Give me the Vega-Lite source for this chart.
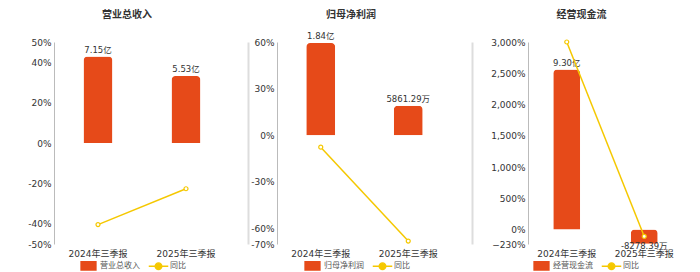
{
  "$schema": "https://vega.github.io/schema/vega-lite/v6.json",
  "padding": {"left": 0, "top": 9, "right": 0, "bottom": 0},
  "background": "white",
  "config": {
    "font": "DejaVu Sans, Noto Sans CJK SC",
    "view": {"stroke": null},
    "title": {"fontSize": 10, "fontWeight": "bold", "color": "#333", "font": "DejaVu Sans, Noto Sans CJK SC"},
    "axis": {"labelFont": "DejaVu Sans, Noto Sans CJK SC", "labelFontSize": 9, "labelColor": "#333", "title": null},
    "legend": {"labelFont": "DejaVu Sans, Noto Sans CJK SC"}
  },
  "hconcat": [
    {
      "width": 176, "height": 202,
      "title": {"text": "营业总收入", "dx": -15, "offset": 18},
      "data": {"values": [
        {"period": "2024年三季报", "amount": 7.15, "label": "7.15亿", "yoy": -40.4},
        {"period": "2025年三季报", "amount": 5.53, "label": "5.53亿", "yoy": -22.66}
      ]},
      "encoding": {"x": {"field": "period", "type": "nominal", "sort": null, "scale": {"paddingInner": 0, "paddingOuter": 0},
        "axis": {"domain": false, "ticks": false, "labelAngle": 0, "labelPadding": 5, "grid": false}}},
      "layer": [
        {"mark": {"type": "bar", "size": 29, "cornerRadiusEnd": 4},
         "encoding": {"y": {"field": "amount", "type": "quantitative", "scale": {"domain": [-8.35, 8.35]}, "axis": null},
           "color": {"datum": "营业总收入", "type": "nominal", "scale": {"domain": ["营业总收入", "同比"], "range": ["#E64A19", "#F5C800"]},
             "legend": {"orient": "none", "legendX": 26, "legendY": 215, "direction": "horizontal", "title": null, "labelFontSize": 8, "labelColor": "#555", "symbolSize": 225, "columnPadding": 6, "labelOffset": 3,
               "encode": {"symbols": {"update": {
                 "shape": {"signal": "datum.value === '同比' ? 'M-1.3,0H-0.45M0.45,0H1.3M0.45,0A0.45,0.45,0,1,1,-0.45,0A0.45,0.45,0,1,1,0.45,0' : 'M-1,-0.55H1V0.55H-1Z'"},
                 "fill": {"signal": "datum.value === '同比' ? '#ffffff' : '#E64A19'"},
                 "stroke": {"signal": "datum.value === '同比' ? '#F5C800' : '#E64A19'"},
                 "strokeWidth": {"value": 1.3}, "opacity": {"value": 1}}}}}}}},
        {"mark": {"type": "text", "baseline": "bottom", "dy": -2, "fontSize": 8.5, "color": "#333"},
         "encoding": {"y": {"field": "amount", "type": "quantitative", "scale": {"domain": [-8.35, 8.35]}, "axis": null}, "text": {"field": "label"}}},
        {"mark": {"type": "rule", "color": "#888", "strokeWidth": 1.5},
         "encoding": {"y": {"datum": 0, "type": "quantitative", "scale": {"domain": [-50, 50]}, "axis": null}}},
        {"mark": {"type": "line", "strokeWidth": 1.5, "point": {"filled": false, "fill": "white", "size": 16, "strokeWidth": 1.2}},
         "encoding": {"y": {"field": "yoy", "type": "quantitative", "scale": {"domain": [-50, 50]},
           "axis": {"values": [-50, -40, -20, 0, 20, 40, 50], "labelExpr": "datum.value + '%'", "tickSize": 0, "labelPadding": 3, "domainColor": "#bbb", "gridColor": "#e8edf5", "domainWidth": 1, "minExtent": 54, "maxExtent": 54}},
           "color": {"datum": "同比", "type": "nominal"}}}
      ],
      "resolve": {"scale": {"y": "independent"}}
    },
    {
      "width": 175, "height": 202,
      "title": {"text": "归母净利润", "dx": -13.5, "offset": 12},
      "data": {"values": [
        {"period": "2024年三季报", "amount": 1.84, "label": "1.84亿", "yoy": -7.7},
        {"period": "2025年三季报", "amount": 0.586129, "label": "5861.29万", "yoy": -68.1}
      ]},
      "encoding": {"x": {"field": "period", "type": "nominal", "sort": null, "scale": {"paddingInner": 0, "paddingOuter": 0},
        "axis": {"domain": false, "ticks": false, "labelAngle": 0, "labelPadding": 5, "grid": false}}},
      "layer": [
        {"mark": {"type": "bar", "size": 29, "cornerRadiusEnd": 4},
         "encoding": {"y": {"field": "amount", "type": "quantitative", "scale": {"domain": [-2.17, 1.86]}, "axis": null},
           "color": {"datum": "归母净利润", "type": "nominal", "scale": {"domain": ["归母净利润", "同比"], "range": ["#E64A19", "#F5C800"]},
             "legend": {"orient": "none", "legendX": 27, "legendY": 215, "direction": "horizontal", "title": null, "labelFontSize": 8, "labelColor": "#555", "symbolSize": 225, "columnPadding": 6, "labelOffset": 3,
               "encode": {"symbols": {"update": {
                 "shape": {"signal": "datum.value === '同比' ? 'M-1.3,0H-0.45M0.45,0H1.3M0.45,0A0.45,0.45,0,1,1,-0.45,0A0.45,0.45,0,1,1,0.45,0' : 'M-1,-0.55H1V0.55H-1Z'"},
                 "fill": {"signal": "datum.value === '同比' ? '#ffffff' : '#E64A19'"},
                 "stroke": {"signal": "datum.value === '同比' ? '#F5C800' : '#E64A19'"},
                 "strokeWidth": {"value": 1.3}, "opacity": {"value": 1}}}}}}}},
        {"mark": {"type": "text", "baseline": "bottom", "dy": -2, "fontSize": 8.5, "color": "#333"},
         "encoding": {"y": {"field": "amount", "type": "quantitative", "scale": {"domain": [-2.17, 1.86]}, "axis": null}, "text": {"field": "label"}}},
        {"mark": {"type": "rule", "color": "#888", "strokeWidth": 1.5},
         "encoding": {"y": {"datum": 0, "type": "quantitative", "scale": {"domain": [-70, 60]},
           "axis": {"orient": "left", "offset": 29, "labels": false, "ticks": false, "grid": false, "domainColor": "#dddddd", "domainWidth": 2, "minExtent": 0, "maxExtent": 0}}}},
        {"mark": {"type": "line", "strokeWidth": 1.5, "point": {"filled": false, "fill": "white", "size": 16, "strokeWidth": 1.2}},
         "encoding": {"y": {"field": "yoy", "type": "quantitative", "scale": {"domain": [-70, 60]},
           "axis": {"orient": "left", "values": [-70, -60, -30, 0, 30, 60], "labelExpr": "datum.value + '%'", "tickSize": 0, "labelPadding": 3, "domainColor": "#bbb", "gridColor": "#e8edf5", "domainWidth": 1, "minExtent": 47, "maxExtent": 47}},
           "color": {"datum": "同比", "type": "nominal"}}}
      ],
      "resolve": {"scale": {"y": "independent"}}
    },
    {
      "width": 155, "height": 202,
      "title": {"text": "经营现金流", "dx": -24, "offset": 18},
      "data": {"values": [
        {"period": "2024年三季报", "amount": 9.30, "label": "9.30亿", "yoy": 3000},
        {"period": "2025年三季报", "amount": -0.827839, "label": "-8278.39万", "yoy": -108.9}
      ]},
      "encoding": {"x": {"field": "period", "type": "nominal", "sort": null, "scale": {"paddingInner": 0, "paddingOuter": 0},
        "axis": {"domain": false, "ticks": false, "labelAngle": 0, "labelPadding": 5, "grid": false}}},
      "layer": [
        {"mark": {"type": "bar", "size": 27, "cornerRadiusEnd": 4},
         "encoding": {"y": {"field": "amount", "type": "quantitative", "scale": {"domain": [-0.8356, 10.9]}, "axis": null},
           "color": {"datum": "经营现金流", "type": "nominal", "scale": {"domain": ["经营现金流", "同比"], "range": ["#E64A19", "#F5C800"]},
             "legend": {"orient": "none", "legendX": 5, "legendY": 215, "direction": "horizontal", "title": null, "labelFontSize": 8, "labelColor": "#555", "symbolSize": 225, "columnPadding": 6, "labelOffset": 3,
               "encode": {"symbols": {"update": {
                 "shape": {"signal": "datum.value === '同比' ? 'M-1.3,0H-0.45M0.45,0H1.3M0.45,0A0.45,0.45,0,1,1,-0.45,0A0.45,0.45,0,1,1,0.45,0' : 'M-1,-0.55H1V0.55H-1Z'"},
                 "fill": {"signal": "datum.value === '同比' ? '#ffffff' : '#E64A19'"},
                 "stroke": {"signal": "datum.value === '同比' ? '#F5C800' : '#E64A19'"},
                 "strokeWidth": {"value": 1.3}, "opacity": {"value": 1}}}}}}}},
        {"transform": [{"filter": "datum.amount >= 0"}],
         "mark": {"type": "text", "baseline": "bottom", "dy": -2, "fontSize": 8.5, "color": "#333"},
         "encoding": {"y": {"field": "amount", "type": "quantitative", "scale": {"domain": [-0.8356, 10.9]}, "axis": null}, "text": {"field": "label"}}},
        {"transform": [{"filter": "datum.amount < 0"}],
         "mark": {"type": "text", "baseline": "top", "dy": -2, "fontSize": 8.5, "color": "#333"},
         "encoding": {"y": {"field": "amount", "type": "quantitative", "scale": {"domain": [-0.8356, 10.9]}, "axis": null}, "text": {"field": "label"}}},
        {"mark": {"type": "rule", "color": "#888", "strokeWidth": 1.5},
         "encoding": {"y": {"datum": 0, "type": "quantitative", "scale": {"domain": [-230, 3000]},
           "axis": {"orient": "left", "offset": 56, "labels": false, "ticks": false, "grid": false, "domainColor": "#dddddd", "domainWidth": 2, "minExtent": 0, "maxExtent": 0}}}},
        {"mark": {"type": "line", "strokeWidth": 1.5, "point": {"filled": false, "fill": "white", "size": 16, "strokeWidth": 1.2}},
         "encoding": {"y": {"field": "yoy", "type": "quantitative", "scale": {"domain": [-230, 3000]},
           "axis": {"orient": "left", "values": [-230, 0, 500, 1000, 1500, 2000, 2500, 3000], "labelExpr": "format(datum.value, ',') + '%'", "tickSize": 0, "labelPadding": 3, "domainColor": "#bbb", "gridColor": "#e8edf5", "domainWidth": 1, "minExtent": 75.5, "maxExtent": 75.5}},
           "color": {"datum": "同比", "type": "nominal"}}}
      ],
      "resolve": {"scale": {"y": "independent"}}
    }
  ],
  "spacing": 0,
  "resolve": {"scale": {"x": "independent", "y": "independent", "color": "independent"}, "axis": {"x": "independent", "y": "independent"}, "legend": {"color": "independent"}}
}
